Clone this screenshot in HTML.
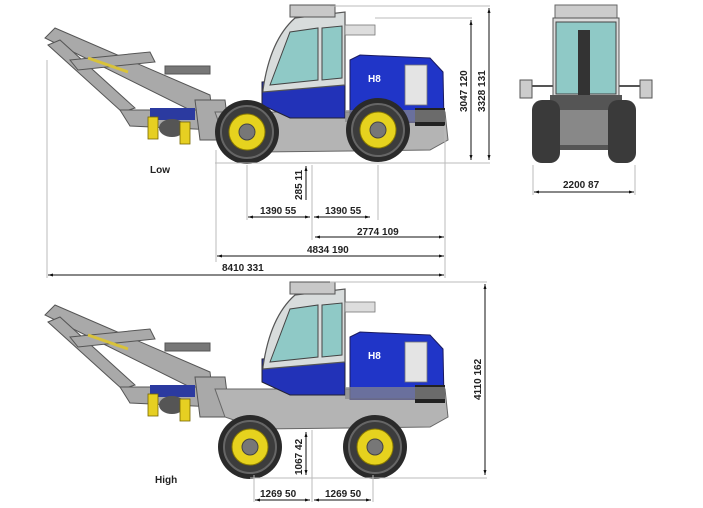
<!DOCTYPE html>
<html><head><style>
html,body{margin:0;padding:0;background:#fff;}
svg{display:block;}
text{font-family:"Liberation Sans",sans-serif;font-weight:bold;font-size:10px;fill:#222;}
</style></head><body>
<svg width="703" height="508" viewBox="0 0 703 508" xmlns="http://www.w3.org/2000/svg">
<defs>
<marker id="a" viewBox="0 0 10 10" refX="10" refY="5" markerWidth="7" markerHeight="5" orient="auto-start-reverse"><path d="M0,2 L10,5 L0,8z" fill="#111"/></marker>
<g id="mach">
  <!-- boom -->
  <g fill="#a9a9a9" stroke="#555" stroke-width="1">
    <polygon points="45,38 55,28 210,95 212,112 200,115"/>
    <polygon points="48,45 60,40 135,108 122,112"/>
    <polygon points="70,60 150,52 155,62 78,70"/>
    <rect x="165" y="66" width="45" height="8" fill="#777"/>
    <polygon points="120,110 210,110 215,130 130,126"/>
    <polygon points="195,100 225,100 230,140 200,140"/>
  </g>
  <path d="M88,58 L128,72" stroke="#d8c23a" stroke-width="3"/>
  <rect x="150" y="108" width="45" height="12" fill="#2b3aa0"/>
  <ellipse cx="172" cy="128" rx="13" ry="9" fill="#555"/>
  <rect x="148" y="117" width="10" height="22" fill="#e6cf22" stroke="#776600" stroke-width=".8"/>
  <rect x="180" y="122" width="10" height="22" fill="#e6cf22" stroke="#776600" stroke-width=".8"/>
  <!-- chassis -->
  <polygon points="215,112 445,112 448,140 430,150 260,152 225,140" fill="#b4b4b4" stroke="#666" stroke-width="1"/>
  <!-- front blue lower cab -->
  <polygon points="262,82 345,75 345,118 290,118 262,105" fill="#2232b8" stroke="#223" stroke-width="1"/>
  <!-- cab -->
  <path d="M263,90 Q270,40 295,18 L345,12 L345,85 L263,92z" fill="#d8dcdc" stroke="#555" stroke-width="1.2"/>
  <polygon points="270,85 290,32 318,28 318,80" fill="#8fc9c6" stroke="#444" stroke-width="1"/>
  <polygon points="322,28 342,26 342,78 322,80" fill="#8fc9c6" stroke="#444" stroke-width="1"/>
  <rect x="290" y="5" width="45" height="12" fill="#c8c8c8" stroke="#555"/>
  <rect x="345" y="25" width="30" height="10" fill="#ddd" stroke="#777" stroke-width=".8"/>
  <!-- engine hood -->
  <path d="M350,60 L360,55 L430,58 L443,72 L444,122 L350,122z" fill="#2035c8" stroke="#1a1a60" stroke-width="1"/>
  <rect x="405" y="65" width="22" height="40" fill="#e4e4e4" stroke="#777" stroke-width=".8"/>
  <text x="368" y="82" style="fill:#fff;font-size:10px">H8</text>
  <rect x="415" y="108" width="30" height="18" fill="#222"/>
  <polygon points="345,110 445,110 445,122 345,122" fill="#8a8a8a" opacity=".7"/>
</g>
<g id="wheel">
  <circle r="32" fill="#2a2a2a"/>
  <circle r="26" fill="#3c3c3c" stroke="#666" stroke-width="2"/>
  <circle r="18" fill="#e6d21e" stroke="#8a7a00" stroke-width="1"/>
  <circle r="8" fill="#777" stroke="#444"/>
</g>
</defs>

<!-- TOP machine -->
<use href="#mach"/>
<use href="#wheel" x="247" y="132"/>
<use href="#wheel" x="378" y="130"/>
<text x="150" y="173">Low</text>

<!-- top dimensions -->
<g stroke="#bbb" stroke-width="1" fill="none">
  <line x1="330" y1="6" x2="490" y2="6"/>
  <line x1="375" y1="18" x2="472" y2="18"/>
  <line x1="215" y1="163" x2="490" y2="163"/>
  <line x1="47" y1="60" x2="47" y2="278"/>
  <line x1="216" y1="150" x2="216" y2="262"/>
  <line x1="247" y1="165" x2="247" y2="220"/>
  <line x1="312" y1="165" x2="312" y2="240"/>
  <line x1="378" y1="165" x2="378" y2="220"/>
  <line x1="445" y1="125" x2="445" y2="278"/>
</g>
<g stroke="#111" stroke-width="1" marker-end="url(#a)" marker-start="url(#a)">
  <line x1="471" y1="20" x2="471" y2="160"/>
  <line x1="489" y1="8" x2="489" y2="160"/>
  <line x1="248" y1="217" x2="310" y2="217"/>
  <line x1="314" y1="217" x2="370" y2="217"/>
  <line x1="315" y1="237" x2="444" y2="237"/>
  <line x1="217" y1="256" x2="444" y2="256"/>
  <line x1="48" y1="275" x2="444" y2="275"/>
</g>
<line x1="306" y1="200" x2="306" y2="166" stroke="#111" marker-end="url(#a)"/>
<text transform="translate(467,112) rotate(-90)">3047  120</text>
<text transform="translate(485,112) rotate(-90)">3328  131</text>
<text transform="translate(302,200) rotate(-90)">285  11</text>
<text x="260" y="214">1390  55</text>
<text x="325" y="214">1390  55</text>
<text x="357" y="235">2774  109</text>
<text x="307" y="253">4834  190</text>
<text x="222" y="271">8410  331</text>

<!-- FRONT view -->
<rect x="555" y="5" width="62" height="15" fill="#ccc" stroke="#666"/>
<rect x="553" y="18" width="66" height="80" fill="#dcdcdc" stroke="#555"/>
<rect x="556" y="22" width="60" height="72" fill="#8fc9c6" stroke="#444"/>
<rect x="578" y="30" width="12" height="80" fill="#333"/>
<rect x="550" y="95" width="72" height="55" fill="#555"/>
<rect x="560" y="110" width="52" height="35" fill="#888"/>
<rect x="520" y="80" width="12" height="18" fill="#ccc" stroke="#555"/>
<rect x="640" y="80" width="12" height="18" fill="#ccc" stroke="#555"/>
<line x1="532" y1="86" x2="553" y2="86" stroke="#555" stroke-width="2"/>
<line x1="619" y1="86" x2="640" y2="86" stroke="#555" stroke-width="2"/>
<rect x="532" y="100" width="28" height="63" rx="10" fill="#3a3a3a"/>
<rect x="608" y="100" width="28" height="63" rx="10" fill="#3a3a3a"/>
<g stroke="#bbb"><line x1="533" y1="165" x2="533" y2="195"/><line x1="635" y1="165" x2="635" y2="195"/></g>
<line x1="534" y1="192" x2="634" y2="192" stroke="#111" marker-end="url(#a)" marker-start="url(#a)"/>
<text x="563" y="188">2200  87</text>

<!-- BOTTOM machine -->
<use href="#mach" y="277"/>
<use href="#wheel" x="250" y="447"/>
<use href="#wheel" x="375" y="447"/>
<text x="155" y="483">High</text>
<g stroke="#bbb" fill="none">
  <line x1="330" y1="282" x2="487" y2="282"/>
  <line x1="250" y1="478" x2="487" y2="478"/>
  <line x1="254" y1="475" x2="254" y2="502"/>
  <line x1="312" y1="430" x2="312" y2="502"/>
  <line x1="373" y1="475" x2="373" y2="502"/>
</g>
<g stroke="#111" marker-end="url(#a)" marker-start="url(#a)">
  <line x1="485" y1="284" x2="485" y2="475"/>
  <line x1="255" y1="500" x2="310" y2="500"/>
  <line x1="314" y1="500" x2="371" y2="500"/>
  <line x1="306" y1="432" x2="306" y2="475"/>
</g>
<text transform="translate(481,400) rotate(-90)">4110  162</text>
<text transform="translate(302,475) rotate(-90)">1067  42</text>
<text x="260" y="497">1269  50</text>
<text x="325" y="497">1269  50</text>
</svg>
</body></html>
